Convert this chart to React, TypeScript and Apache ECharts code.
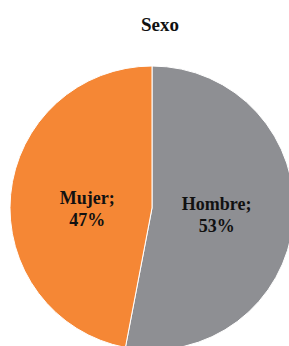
import React, { useEffect, useRef } from "react";
import * as echarts from "echarts";

const categories = ["Hombre", "Mujer"];
const values = [53, 47];
const colors = ["#8E8F93", "#F58735"];
const title = "Sexo";

const FONT = "'Liberation Serif', 'DejaVu Serif', serif";

export default function App() {
  const ref = useRef<HTMLDivElement>(null);
  useEffect(() => {
    document.body.style.margin = "0";
    const chart = echarts.init(ref.current!, null, { renderer: "svg" });
    const offsets = [
      [-9, 0],
      [9, 8],
    ];
    chart.setOption({
      animation: false,
      title: {
        text: title,
        left: 155,
        top: 10,
        textAlign: "center",
        textStyle: {
          fontFamily: FONT,
          fontWeight: "bold",
          fontSize: 19,
          color: "#111",
        },
      },
      series: [
        {
          type: "pie",
          center: [152, 208],
          radius: [0, 142],
          startAngle: 90,
          clockwise: true,
          silent: true,
          itemStyle: { borderColor: "#fff", borderWidth: 1 },
          label: {
            show: true,
            position: "inside",
            formatter: (p: any) => `${p.name};\n${p.value}%`,
            fontFamily: FONT,
            fontWeight: "bold",
            fontSize: 18,
            lineHeight: 22,
            color: "#111",
          },
          labelLine: { show: false },
          data: categories.map((c, i) => ({
            name: c,
            value: values[i],
            itemStyle: { color: colors[i] },
            label: { offset: offsets[i] },
          })),
        },
      ],
    });
    return () => chart.dispose();
  }, []);
  return <div ref={ref} style={{ width: 289, height: 346 }} />;
}
